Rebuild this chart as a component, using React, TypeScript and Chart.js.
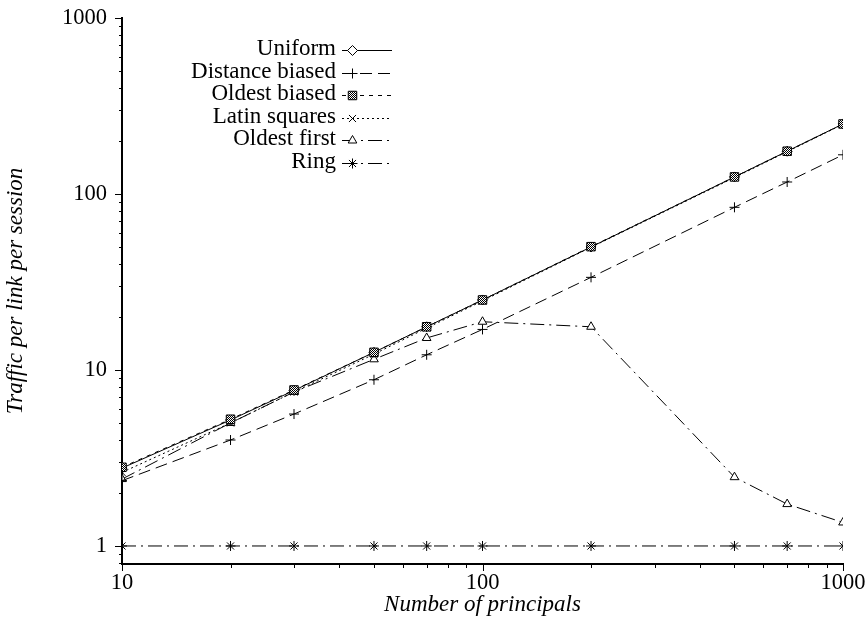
import React, { useEffect, useRef } from 'react';
import { Chart, registerables } from 'chart.js';
import { drawPoint } from 'chart.js/helpers';

Chart.register(...registerables);

const principals = [10, 20, 30, 50, 70, 100, 200, 500, 700, 1000];
const uniform = [2.77, 5.2, 7.65, 12.6, 17.6, 25.0, 50.0, 125, 175, 250];
const distanceBiased = [2.35, 4.0, 5.62, 8.8, 12.2, 17.0, 33.6, 84, 117, 167];
const oldestBiased = [2.8, 5.25, 7.7, 12.6, 17.6, 25.0, 50.2, 125, 175, 250];
const latinSquares = [2.62, 5.0, 7.5, 12.3, 17.3, 24.7, 49.8, 124, 174, 249];
const oldestFirst = [2.4, 5.0, 7.5, 11.5, 15.2, 18.8, 17.6, 2.46, 1.73, 1.36];
const ring = [1, 1, 1, 1, 1, 1, 1, 1, 1, 1];

const seriesLabels = ['Uniform', 'Distance biased', 'Oldest biased', 'Latin squares', 'Oldest first', 'Ring'];

const yTickValues = [0.8, 0.9, 1, 2, 3, 4, 5, 6, 7, 8, 9, 10, 20, 30, 40, 50, 60, 70, 80, 90, 100, 200, 300, 400, 500, 600, 700, 800, 900, 1000];
const xTickValues = [10, 20, 30, 40, 50, 60, 70, 80, 90, 100, 200, 300, 400, 500, 600, 700, 800, 900, 1000];
const majorValues = [1, 10, 100, 1000];

const FONT = '"Liberation Serif", "Times New Roman", Times, serif';

export default function App() {
  const ref = useRef<HTMLCanvasElement>(null);

  useEffect(() => {
    const canvas = ref.current!;
    const pc = document.createElement('canvas');
    pc.width = 2;
    pc.height = 2;
    const pctx = pc.getContext('2d')!;
    pctx.fillStyle = '#ffffff';
    pctx.fillRect(0, 0, 2, 2);
    pctx.fillStyle = '#000000';
    pctx.fillRect(0, 0, 1, 1);
    pctx.fillRect(1, 1, 1, 1);
    const pattern = canvas.getContext('2d')!.createPattern(pc, 'repeat');

    const mk = (i: number, data: number[], dash: number[], pointStyle: string, radius: number, bg: any, order: number) => ({
      label: seriesLabels[i],
      data: data.map((y, k) => ({ x: principals[k], y })),
      borderColor: '#000',
      borderWidth: 1,
      borderDash: dash,
      pointStyle,
      pointRadius: radius,
      pointHoverRadius: radius,
      pointBorderColor: '#000',
      pointBackgroundColor: bg,
      pointBorderWidth: 1,
      fill: false,
      tension: 0,
      order,
    });

    const datasets = [
      mk(0, uniform, [], 'rectRot', 5, '#fff', 2),
      mk(1, distanceBiased, [12, 6], 'cross', 5, '#000', 3),
      mk(2, oldestBiased, [4, 5], 'rect', 6, pattern, 0),
      mk(3, latinSquares, [2, 3], 'crossRot', 5, '#000', 1),
      mk(4, oldestFirst, [14, 5, 2, 5], 'triangle', 5, '#fff', 4),
      mk(5, ring, [14, 5, 2, 5], 'star', 5, '#000', 5),
    ];

    const decor = {
      id: 'decor',
      afterDraw(chart: any) {
        const ctx = chart.ctx as CanvasRenderingContext2D;
        const xs = chart.scales.x;
        const ys = chart.scales.y;
        const { left, bottom } = chart.chartArea;
        ctx.save();
        ctx.strokeStyle = '#000';
        ctx.lineWidth = 1;
        ctx.setLineDash([]);
        for (const v of yTickValues) {
          const py = Math.round(ys.getPixelForValue(v)) + 0.5;
          const len = majorValues.includes(v) ? 7 : 3;
          ctx.beginPath();
          ctx.moveTo(left - len, py);
          ctx.lineTo(left, py);
          ctx.stroke();
        }
        for (const v of xTickValues) {
          const px = Math.round(xs.getPixelForValue(v)) + 0.5;
          const len = majorValues.includes(v) ? 7 : 4;
          ctx.beginPath();
          ctx.moveTo(px, bottom);
          ctx.lineTo(px, bottom + len);
          ctx.stroke();
        }
        // legend
        ctx.font = `23px ${FONT}`;
        ctx.fillStyle = '#000';
        ctx.textAlign = 'right';
        ctx.textBaseline = 'middle';
        chart.data.datasets.forEach((ds: any, i: number) => {
          const y = Math.round(50 + i * 22.6) + 0.5;
          ctx.fillText(ds.label, 336, y - 2);
          ctx.setLineDash(ds.borderDash || []);
          ctx.lineWidth = 1;
          ctx.strokeStyle = '#000';
          ctx.beginPath();
          ctx.moveTo(342, y);
          ctx.lineTo(392, y);
          ctx.stroke();
          ctx.setLineDash([]);
          ctx.fillStyle = ds.pointBackgroundColor;
          drawPoint(ctx, { pointStyle: ds.pointStyle, radius: ds.pointRadius, rotation: 0, borderWidth: 1 } as any, 352.5, y);
          ctx.fillStyle = '#000';
        });
        ctx.restore();
      },
    };

    const chart = new Chart(canvas, {
      type: 'line',
      data: { datasets: datasets as any },
      options: {
        animation: false,
        responsive: false,
        events: [],
        layout: { padding: { left: 0, top: 18, right: 23, bottom: 0 } },
        plugins: { legend: { display: false }, tooltip: { enabled: false } },
        scales: {
          x: {
            type: 'logarithmic',
            min: 10,
            max: 1000,
            afterFit: (s: any) => { s.height = 57; },
            afterBuildTicks: (s: any) => { s.ticks = xTickValues.map((v) => ({ value: v, major: majorValues.includes(v) })); },
            grid: { display: false, drawTicks: true, tickLength: 6 },
            border: { display: true, color: '#000', width: 2 },
            ticks: {
              autoSkip: false,
              maxRotation: 0,
              padding: 0,
              color: '#000',
              font: { family: FONT, size: 22.5 },
              callback: (v: any) => (majorValues.includes(Number(v)) ? String(v) : ''),
            },
            title: {
              display: true,
              text: 'Number of principals',
              color: '#000',
              font: { family: FONT, size: 23, style: 'italic' },
              padding: { top: 0, bottom: 2 },
            },
          },
          y: {
            type: 'logarithmic',
            min: 0.79,
            max: 1000,
            afterFit: (s: any) => { s.width = 122; },
            afterBuildTicks: (s: any) => { s.ticks = yTickValues.map((v) => ({ value: v, major: majorValues.includes(v) })); },
            grid: { display: false, drawTicks: true, tickLength: 11 },
            border: { display: true, color: '#000', width: 2 },
            ticks: {
              autoSkip: false,
              padding: 4,
              color: '#000',
              font: { family: FONT, size: 22.5 },
              callback: (v: any) => (majorValues.includes(Number(v)) ? String(v) : ''),
            },
            title: {
              display: true,
              text: 'Traffic per link per session',
              color: '#000',
              font: { family: FONT, size: 23, style: 'italic' },
              padding: { top: 2.5, bottom: 0 },
            },
          },
        },
      },
      plugins: [decor],
    });

    return () => chart.destroy();
  }, []);

  return (
    <div style={{ position: 'absolute', left: 0, top: 0, width: 866, height: 621, background: '#fff' }}>
      <canvas ref={ref} width={866} height={621} style={{ display: 'block' }} />
    </div>
  );
}
